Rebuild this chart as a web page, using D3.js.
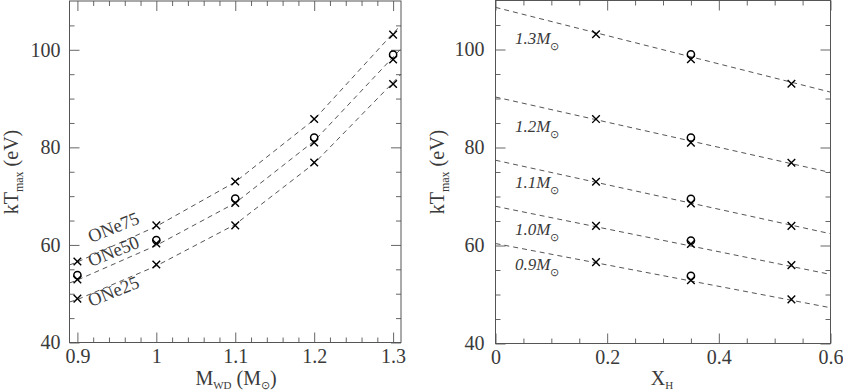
<!DOCTYPE html>
<html>
<head>
<meta charset="utf-8">
<script src="https://cdn.jsdelivr.net/npm/d3@7"></script>
<style>
  body { margin: 0; background: #fff; }
  svg text { font-family: "Liberation Serif", "Times New Roman", serif; fill: #3a3a3a; }
</style>
</head>
<body>
<svg id="chart" width="843" height="391"></svg>
<script>
// white dwarf masses and hydrogen fractions
const masses = [0.9, 1.0, 1.1, 1.2, 1.3];
const massLabels = ["0.9", "1.0", "1.1", "1.2", "1.3"];
const compositions = ["ONe75", "ONe50", "ONe25"];
const xH = [0.18, 0.35, 0.53];

// kT_max (eV) crosses, one row per composition, one value per mass
const kTone75 = [56.6, 64.0, 73.0, 85.8, 103.1];
const kTone50 = [52.9, 60.3, 68.6, 81.0, 98.0];
const kTone25 = [49.0, 56.0, 64.0, 76.9, 93.0];
// circles (at X_H = 0.35)
const kTcircle = [53.8, 61.0, 69.5, 82.0, 99.0];

// dashed curves of the left panel, read at these masses
const curveMass = [0.89, 0.9, 1.0, 1.1, 1.2, 1.3, 1.31];
const curveOne75 = [55.9, 56.5, 63.8, 72.9, 85.7, 103.4, 105.0];
const curveOne50 = [52.2, 52.8, 59.9, 68.6, 81.3, 98.5, 100.2];
const curveOne25 = [48.3, 48.8, 55.7, 64.2, 76.7, 93.3, 95.0];

// straight dashed fits of the right panel: value at X_H = 0 and X_H = 0.6
const fitAt0 = [60.4, 68.0, 77.4, 90.3, 108.6];
const fitAt06 = [47.3, 54.1, 62.4, 74.9, 91.3];

// ticks
const yMajor = [40, 60, 80, 100];
const yMinor = [45, 50, 55, 65, 70, 75, 85, 90, 95, 105];
const xLMajor = [0.9, 1.0, 1.1, 1.2, 1.3];
const xLMinor = [0.92, 0.94, 0.96, 0.98, 1.02, 1.04, 1.06, 1.08, 1.12, 1.14, 1.16, 1.18, 1.22, 1.24, 1.26, 1.28];
const xRMajor = [0, 0.2, 0.4, 0.6];
const xRMinor = [0.05, 0.1, 0.15, 0.25, 0.3, 0.35, 0.45, 0.5, 0.55];

const kTrows = [kTone75, kTone50, kTone25];
const curveRows = [curveOne75, curveOne50, curveOne25];

const FONT = "Liberation Serif";
const svg = d3.select("#chart");
const fmt = d3.format("~g");

const xL = d3.scaleLinear().domain([0.89, 1.31]).range([69.5, 401]);
const yL = d3.scaleLinear().domain([40, 110]).range([342.5, 1]);
const xR = d3.scaleLinear().domain([0, 0.6]).range([495.5, 830.5]);
const yR = d3.scaleLinear().domain([40, 110]).range([343.5, 0.5]);

function addText(g, size) {
  return g.append("text")
    .attr("font-family", FONT)
    .attr("font-size", size)
    .attr("fill", "#3a3a3a");
}

function frame(x, y, xMaj, xMin, yPad) {
  const [x0, x1] = x.range();
  const [y0, y1] = y.range();
  const g = svg.append("g");

  const axes = [
    [d3.axisBottom(x).tickValues(xMaj).tickSize(-10).tickPadding(6).tickFormat(fmt), `translate(0,${y0})`],
    [d3.axisBottom(x).tickValues(xMin).tickSize(-5).tickFormat(""), `translate(0,${y0})`],
    [d3.axisTop(x).tickValues(xMaj).tickSize(-10).tickFormat(""), `translate(0,${y1})`],
    [d3.axisTop(x).tickValues(xMin).tickSize(-5).tickFormat(""), `translate(0,${y1})`],
    [d3.axisLeft(y).tickValues(yMajor).tickSize(-10).tickPadding(yPad).tickFormat(fmt), `translate(${x0},0)`],
    [d3.axisLeft(y).tickValues(yMinor).tickSize(-5).tickFormat(""), `translate(${x0},0)`],
    [d3.axisRight(y).tickValues(yMajor).tickSize(-10).tickFormat(""), `translate(${x1},0)`],
    [d3.axisRight(y).tickValues(yMinor).tickSize(-5).tickFormat(""), `translate(${x1},0)`]
  ];
  axes.forEach(([ax, tr]) => {
    const a = g.append("g")
      .attr("transform", tr)
      .call(ax)
      .attr("font-family", FONT)
      .attr("font-size", 20);
    a.select(".domain").remove();
    a.selectAll("line").attr("stroke", "#666");
    a.selectAll("text").attr("fill", "#3a3a3a");
  });

  g.append("rect")
    .attr("x", x0).attr("y", y1)
    .attr("width", x1 - x0).attr("height", y0 - y1)
    .attr("fill", "none")
    .attr("stroke", "#555")
    .attr("stroke-width", 1);
}

function cross(g, cx, cy) {
  const s = 3.8;
  g.append("path")
    .attr("d", `M${cx - s},${cy - s}L${cx + s},${cy + s}M${cx - s},${cy + s}L${cx + s},${cy - s}`)
    .attr("stroke", "#000")
    .attr("stroke-width", 1.4)
    .attr("fill", "none");
}

function circle(g, cx, cy) {
  g.append("circle")
    .attr("cx", cx).attr("cy", cy).attr("r", 3.6)
    .attr("fill", "none")
    .attr("stroke", "#000")
    .attr("stroke-width", 1.5);
}

// ---------- left panel ----------
frame(xL, yL, xLMajor, xLMinor, 9);

const left = svg.append("g");
const line = d3.line().x(d => xL(d[0])).y(d => yL(d[1]));

curveRows.forEach(row => {
  left.append("path")
    .attr("d", line(curveMass.map((m, i) => [m, row[i]])))
    .attr("fill", "none")
    .attr("stroke", "#555")
    .attr("stroke-width", 1)
    .attr("stroke-dasharray", "5,4");
});

kTrows.forEach(row => {
  row.forEach((v, i) => cross(left, xL(masses[i]), yL(v)));
});
kTcircle.forEach((v, i) => circle(left, xL(masses[i]), yL(v)));

// composition labels along the curves
const compPos = [[91, 243], [91, 267], [91, 307]];
compositions.forEach((c, i) => {
  addText(left, 18.5)
    .attr("transform", `translate(${compPos[i][0]},${compPos[i][1]}) rotate(-22)`)
    .text(c);
});

// ---------- right panel ----------
frame(xR, yR, xRMajor, xRMinor, 11);

const right = svg.append("g");
masses.forEach((m, i) => {
  right.append("line")
    .attr("x1", xR(0)).attr("y1", yR(fitAt0[i]))
    .attr("x2", xR(0.6)).attr("y2", yR(fitAt06[i]))
    .attr("stroke", "#555")
    .attr("stroke-width", 1)
    .attr("stroke-dasharray", "5,4");
});

kTrows.forEach((row, c) => {
  row.forEach(v => cross(right, xR(xH[c]), yR(v)));
});
kTcircle.forEach(v => circle(right, xR(xH[1]), yR(v)));

// mass labels
const massLabelY = [270, 235, 188, 132, 44];
masses.forEach((m, i) => {
  const t = addText(right, 17).attr("x", 515).attr("y", massLabelY[i]);
  t.append("tspan").attr("font-style", "italic").text(massLabels[i] + "M");
  t.append("tspan").attr("dy", 6).attr("font-size", 11).text("\u2299");
});

// ---------- axis titles ----------
function yTitle(x) {
  const t = addText(svg, 20)
    .attr("transform", `translate(${x},172) rotate(-90)`)
    .attr("text-anchor", "middle");
  t.append("tspan").text("kT");
  t.append("tspan").attr("dy", 5).attr("font-size", 12).text("max");
  t.append("tspan").attr("dy", -5).text(" (eV)");
}
yTitle(18);
yTitle(444);

const mt = addText(svg, 20)
  .attr("x", 236).attr("y", 385)
  .attr("text-anchor", "middle");
mt.append("tspan").text("M");
mt.append("tspan").attr("dy", 4).attr("font-size", 11).text("WD");
mt.append("tspan").attr("dy", -4).text(" (M");
mt.append("tspan").attr("dy", 4).attr("font-size", 11).text("\u2299");
mt.append("tspan").attr("dy", -4).text(")");

const xt = addText(svg, 20)
  .attr("x", 662).attr("y", 385)
  .attr("text-anchor", "middle");
xt.append("tspan").text("X");
xt.append("tspan").attr("dy", 4).attr("font-size", 11).text("H");
</script>
</body>
</html>
